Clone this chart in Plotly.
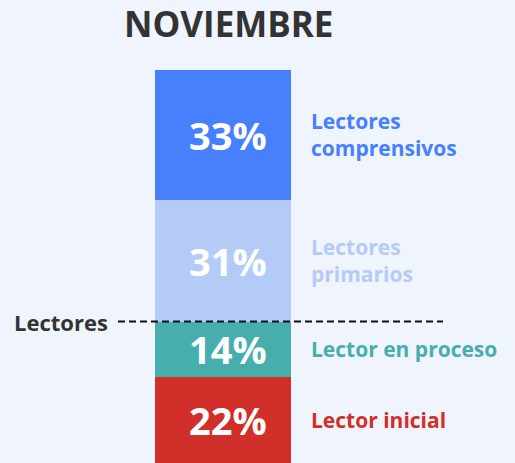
import plotly.graph_objects as go

categories = ["Lector inicial", "Lector en proceso", "Lectores primarios", "Lectores comprensivos"]
values = [22, 14, 31, 33]
right_labels = ["Lector inicial", "Lector en proceso", "Lectores<br>primarios", "Lectores<br>comprensivos"]
colors = ["#d12f2a", "#47aeae", "#b4cbf8", "#4680fd"]
title_text = "NOVIEMBRE"
threshold_label = "Lectores"
threshold_value = 36

FONT = "Open Sans"
W, H = 515, 463
BAR_L, BAR_R = 155, 291
TOP_PX = 70

px_per_x = BAR_R - BAR_L
x_range = [-0.5 - BAR_L / px_per_x, -0.5 + (W - BAR_L) / px_per_x]
total = sum(values)
px_per_y = (H - TOP_PX) / total
y_range = [0, total + TOP_PX / px_per_y]

def xd(px):
    return (px - BAR_L) / px_per_x - 0.5

fig = go.Figure()
for cat, v, c in zip(categories, values, colors):
    fig.add_trace(go.Bar(x=[0], y=[v], name=cat, marker=dict(color=c, line=dict(width=0)),
                         width=1, hoverinfo="skip", showlegend=False))

annotations = []
cum = 0
for v, c, lab in zip(values, colors, right_labels):
    mid = cum + v / 2
    cum += v
    annotations.append(dict(x=xd(228), y=mid, xref="x", yref="y", text=f"{v}%", showarrow=False,
                            font=dict(family=FONT, size=38, color="white", weight=700),
                            xanchor="center", yanchor="middle"))
    annotations.append(dict(x=xd(309), y=mid, xref="x", yref="y", text=lab, showarrow=False,
                            font=dict(family=FONT, size=21, color=c, weight=700),
                            xanchor="left", yanchor="middle", align="left"))

annotations.append(dict(x=xd(228), y=1 - 24 / H, xref="x", yref="paper", text=title_text, showarrow=False,
                        font=dict(family=FONT, size=35, color="#333333", weight=700),
                        xanchor="center", yanchor="middle"))
annotations.append(dict(x=xd(110), y=threshold_value, xref="x", yref="y", text=threshold_label, showarrow=False,
                        font=dict(family=FONT, size=22, color="#333333", weight=700),
                        xanchor="right", yanchor="middle"))

fig.add_shape(type="line", xref="x", yref="y", x0=xd(118), x1=xd(443), y0=threshold_value, y1=threshold_value,
              line=dict(color="#111111", width=2, dash="7px,4px"), layer="above")

fig.update_layout(
    width=W, height=H, margin=dict(l=0, r=0, t=0, b=0),
    barmode="stack", bargap=0,
    paper_bgcolor="#f0f4fc", plot_bgcolor="#f0f4fc",
    xaxis=dict(range=x_range, visible=False, fixedrange=True),
    yaxis=dict(range=y_range, visible=False, fixedrange=True),
    annotations=annotations,
)

fig.write_html("out.html", config={"displayModeBar": False},
               post_script="document.body.style.margin='0';document.body.style.overflow='hidden';document.body.style.background='#f0f4fc';")
